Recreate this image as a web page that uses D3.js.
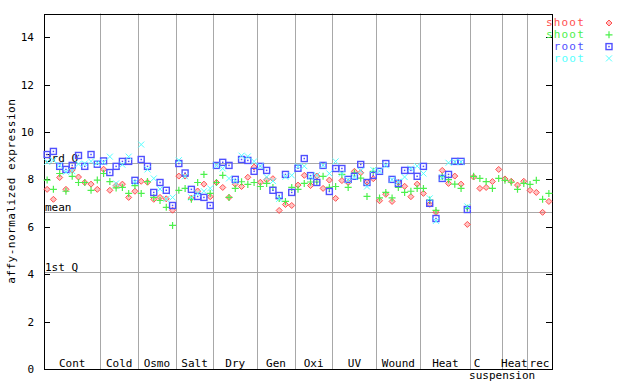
<!DOCTYPE html>
<html>
<head>
<meta charset="utf-8">
<script src="https://cdn.jsdelivr.net/npm/d3@7"></script>
<style>
  html, body { margin: 0; padding: 0; background: #ffffff; }
  svg text { font-family: "DejaVu Sans Mono", monospace; font-size: 11px; }
</style>
</head>
<body>
<div id="chart"></div>
<script>
// section labels along the x axis and how many samples each one holds
const groups = ['Cont', 'Cold', 'Osmo', 'Salt', 'Dry', 'Gen', 'Oxi', 'UV', 'Wound', 'Heat', 'C suspension', 'Heat', 'rec'];
const groupSizes = [9, 6, 6, 6, 7, 6, 6, 7, 7, 8, 5, 4, 4];

const yTicks = [0, 2, 4, 6, 8, 10, 12, 14];

// reference lines
const refLabels = ['3rd Q', 'mean', '1st Q'];
const refValues = [8.68, 6.61, 4.08];

// legend
const seriesNames = ['shoot', 'shoot', 'root', 'root'];

// one value per sample, null where the series has no sample
const shootRed = [
  7.58, 7.16, 8.08, 7.58, 8.40, 8.10, 7.87, 7.80, 7.58,
  8.43, 7.54, 7.74, 7.80, 7.24, 7.50,
  7.92, 7.88, 7.16, 7.24, 7.18, 6.70,
  8.14, 8.14, 7.21, 7.51, 7.80, 7.27,
  7.87, 7.66, 7.24, 7.80, 7.70, 8.09, 8.52,
  7.88, 7.98, 8.03, 6.69, 6.94, 6.90,
  7.76, 8.17, 7.74, 8.14, 7.62, 7.97,
  7.20, 7.95, 7.87, 8.34, 8.28, 7.89, 8.03,
  7.10, 7.37, 7.07, 7.87, 7.71, 7.27, 7.80,
  7.41, 6.95, 6.61, 8.38, 7.83, 8.14, 7.80, 6.10,
  8.10, 7.62, 7.66, 7.91, 8.42,
  8.02, 7.92, 7.76, 7.92,
  7.54, 7.45, 6.61, 7.07
];
const shootGreen = [
  7.97, 7.58, 8.25, 7.50, 8.13, 7.87, 7.87, 7.54, 7.97,
  8.25, 7.91, 7.64, 7.66, 7.41, 7.74,
  7.41, 7.91, 7.24, 7.11, 6.82, 6.06,
  7.54, 7.62, 7.16, 7.87, 8.21, 7.41,
  7.87, 8.17, 7.24, 7.62, 7.90, 7.79, 7.87,
  7.70, 7.83, 7.66, 7.19, 7.07, 7.66,
  7.58, 7.83, 7.89, 7.89, 8.13, 7.66,
  7.70, 8.21, 7.66, 8.27, 8.05, 7.28, 8.34,
  7.22, 7.45, 7.22, 7.66, 7.45, 7.50, 7.62,
  7.62, 7.13, 6.69, 8.12, 7.99, 7.80, 7.62, 6.78,
  8.13, 8.04, 7.91, 7.62, 8.04,
  7.96, 7.88, 7.58, 7.83,
  7.79, 7.96, 7.16, 7.41
];
const rootBlue = [
  9.05, 9.18, 8.55, 8.42, 8.59, 9.01, 8.55, 9.05, 8.64,
  8.78, 8.29, 8.55, 8.76, 8.76, 7.96,
  8.84, 8.55, 7.45, 7.87, 7.54, 6.90,
  8.67, 8.27, 7.58, 7.28, 7.24, 6.90,
  8.59, 8.72, 8.59, 8.00, 8.84, 8.80, 8.34,
  8.55, 8.38, 7.54, 7.32, 8.21, 7.45,
  8.47, 8.88, 8.16, 7.87, 8.59, 7.49,
  8.46, 8.46, 8.00, 8.13, 8.63, 7.87, 8.17,
  8.34, 8.67, 8.00, 7.83, 8.38, 8.38, 8.13,
  8.55, 6.99, 6.35, 8.04, 8.21, 8.76, 8.76, 6.73,
  null, null, null, null, null,
  null, null, null, null,
  null, null, null, null
];
const rootCyan = [
  8.74, 8.81, 8.60, 8.32, 8.35, 8.65, 8.67, 8.76, 8.70,
  8.72, 8.96, 7.83, 8.62, 8.96, 7.88,
  9.47, 8.42, 8.04, 7.59, 7.17, 7.24,
  8.81, 8.13, 7.24, 7.41, 7.50, 7.62,
  8.59, 8.46, 8.04, 7.93, 9.00, 8.97, 8.76,
  8.56, 8.10, 7.93, 7.18, 8.11, 8.17,
  8.55, 8.56, 8.11, 8.18, 8.59, 8.25,
  8.76, 8.25, 7.97, 8.10, 8.37, 7.70, 8.40,
  8.35, 8.59, 7.99, 7.90, 8.10, 8.46, 8.56,
  8.25, 7.20, 6.25, 8.08, 8.70, 8.74, 8.74, 6.86,
  null, null, null, null, null,
  null, null, null, null,
  null, null, null, null
];

(function () {
  const width = 640;
  const height = 384;
  const plot = { left: 44, right: 552, top: 13.5, bottom: 369 };
  const COLORS = ['#ff5050', '#4cf04c', '#5050ff', '#55ffff'];
  const GRID = '#a8a8a8';

  const total = d3.sum(groupSizes);

  const svg = d3.select('#chart')
    .append('svg')
    .attr('width', width)
    .attr('height', height)
    .attr('viewBox', `0 0 ${width} ${height}`);

  const x = d3.scaleLinear().domain([0, total]).range([plot.left, plot.right]);
  const y = d3.scaleLinear().domain([0, 15]).range([plot.bottom, plot.top]);

  // section boundaries
  const bounds = [];
  let acc = 0;
  groupSizes.forEach((n, i) => {
    bounds.push({ label: groups[i], start: acc, end: acc + n });
    acc += n;
  });

  svg.append('g')
    .selectAll('line')
    .data(bounds.slice(0, -1))
    .join('line')
    .attr('x1', d => Math.round(x(d.end)) + 0.5)
    .attr('x2', d => Math.round(x(d.end)) + 0.5)
    .attr('y1', plot.top)
    .attr('y2', plot.bottom)
    .attr('stroke', GRID)
    .attr('stroke-width', 1);

  // quartile / mean lines with their labels
  const refs = svg.append('g');
  refs.selectAll('line')
    .data(refValues)
    .join('line')
    .attr('x1', plot.left)
    .attr('x2', plot.right)
    .attr('y1', d => Math.round(y(d)) + 0.5)
    .attr('y2', d => Math.round(y(d)) + 0.5)
    .attr('stroke', GRID)
    .attr('stroke-width', 1);
  refs.selectAll('text')
    .data(refValues)
    .join('text')
    .attr('x', plot.left + 1)
    .attr('y', d => Math.round(y(d)) - 1)
    .attr('fill', '#000')
    .text((d, i) => refLabels[i]);

  // axes: inward ticks on both sides
  const left = svg.append('g')
    .attr('transform', `translate(${plot.left},0)`)
    .call(d3.axisLeft(y).tickValues(yTicks).tickSize(-6).tickPadding(10).tickFormat(d3.format('d')));
  left.select('.domain').remove();
  left.selectAll('text').attr('font-family', '"DejaVu Sans Mono", monospace').attr('font-size', 11).attr('fill', '#000');

  const right = svg.append('g')
    .attr('transform', `translate(${plot.right},0)`)
    .call(d3.axisRight(y).tickValues(yTicks.slice(1)).tickSize(-6).tickFormat(''));
  right.select('.domain').remove();

  svg.selectAll('.tick line').attr('stroke', '#000').attr('shape-rendering', 'crispEdges');

  // frame
  svg.append('rect')
    .attr('x', plot.left + 0.5)
    .attr('y', Math.round(plot.top) + 0.5)
    .attr('width', plot.right - plot.left)
    .attr('height', Math.round(plot.bottom) - Math.round(plot.top))
    .attr('fill', 'none')
    .attr('stroke', '#000')
    .attr('stroke-width', 1)
    .attr('shape-rendering', 'crispEdges');

  // section labels
  const labelG = svg.append('g').attr('fill', '#000').attr('text-anchor', 'middle');
  bounds.forEach(b => {
    const cx = x((b.start + b.end) / 2);
    const words = b.label.split(' ');
    if (words.length > 1) {
      labelG.append('text').attr('x', cx - 9).attr('y', 367).text(words[0]);
      labelG.append('text').attr('x', cx + 16).attr('y', 379).text(words[1]);
    } else {
      labelG.append('text').attr('x', cx).attr('y', 367).text(b.label);
    }
  });

  // y title
  svg.append('text')
    .attr('transform', `translate(15,${(plot.top + plot.bottom) / 2}) rotate(-90)`)
    .attr('text-anchor', 'middle')
    .attr('letter-spacing', 0.5)
    .attr('fill', '#000')
    .text('affy-normalized expression');

  // markers
  const symbols = [
    (g, c) => g.append('path').attr('d', 'M0,-3L3,0L0,3L-3,0Z').attr('fill', 'rgba(255,80,80,0.35)').attr('stroke', c).attr('stroke-width', 1),
    (g, c) => g.append('path').attr('d', 'M-3.5,0H3.5M0,-3.5V3.5').attr('stroke', c).attr('stroke-width', 1.2),
    (g, c) => {
      g.append('rect').attr('x', -3).attr('y', -3).attr('width', 6).attr('height', 6)
        .attr('fill', 'none').attr('stroke', c).attr('stroke-width', 1.4);
      g.append('rect').attr('x', -0.75).attr('y', -0.75).attr('width', 1.5).attr('height', 1.5).attr('fill', c);
    },
    (g, c) => g.append('path').attr('d', 'M-3,-3L3,3M-3,3L3,-3').attr('stroke', c).attr('stroke-width', 1)
  ];

  const seriesList = [shootRed, shootGreen, rootBlue, rootCyan];
  seriesList.forEach((values, si) => {
    const g = svg.append('g');
    values.forEach((v, i) => {
      if (v === null) return;
      const m = g.append('g').attr('transform', `translate(${x(i + 0.5)},${y(v)})`);
      symbols[si](m, COLORS[si]);
    });
  });

  // legend
  const legend = svg.append('g');
  seriesNames.forEach((name, i) => {
    const cy = 23 + i * 11.8;
    legend.append('text')
      .attr('x', 585)
      .attr('y', cy + 3.3)
      .attr('text-anchor', 'end')
      .attr('font-size', 9)
      .attr('letter-spacing', 1.2)
      .attr('fill', COLORS[i])
      .text(name);
    const m = legend.append('g').attr('transform', `translate(609,${cy})`);
    symbols[i](m, COLORS[i]);
  });
})();
</script>
</body>
</html>
